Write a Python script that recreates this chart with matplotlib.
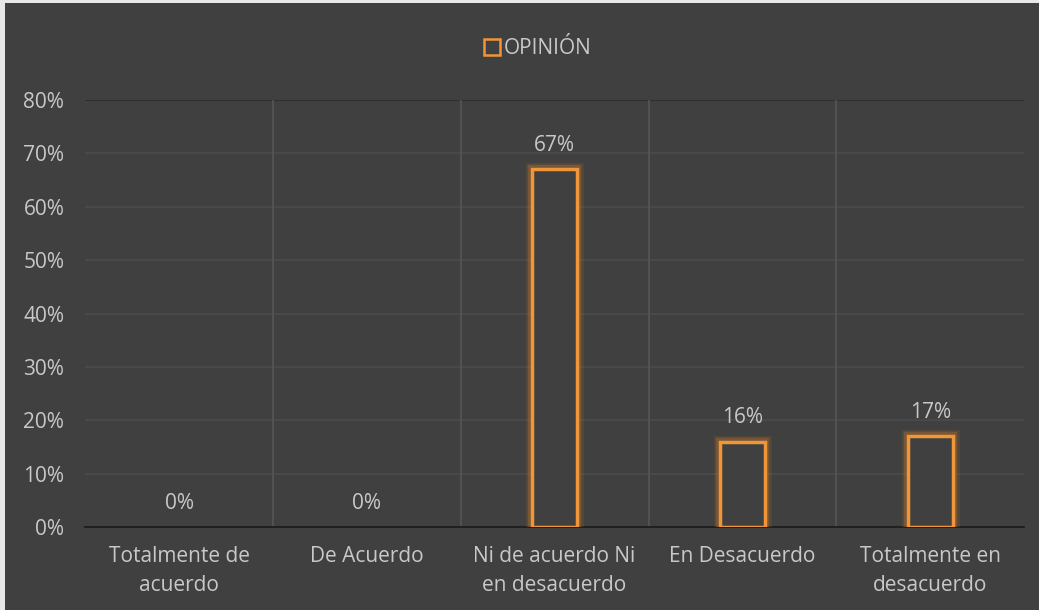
import matplotlib.pyplot as plt
from matplotlib.patches import Rectangle
import numpy as np

categories = ["Totalmente de\nacuerdo", "De Acuerdo", "Ni de acuerdo Ni\nen desacuerdo",
              "En Desacuerdo", "Totalmente en\ndesacuerdo"]
values = [0, 0, 67, 16, 17]
labels = ["0%", "0%", "67%", "16%", "17%"]
series_name = "OPINIÓN"

bg = '#404040'
txt = '#c8c8c8'
orange = '#f0963a'
fs = 15

plt.rcParams['font.family'] = ['Open Sans', 'DejaVu Sans']
plt.rcParams['font.size'] = fs

fig = plt.figure(figsize=(10.39, 6.10), dpi=100, facecolor='#e8e8e8')
fig.patches.append(Rectangle((5 / 1039, 0), 1 - 5 / 1039, 1 - 3 / 610,
                             transform=fig.transFigure, facecolor=bg,
                             edgecolor='none', zorder=-10))
ax = fig.add_axes([0.082, 0.136, 0.9036, 0.700])
ax.set_facecolor(bg)

x = np.arange(len(categories))
lws = [0 if v == 0 else 1 for v in values]
# glow behind the bars
for lw, a in [(9, 0.15), (6, 0.3)]:
    ax.bar(x, values, width=0.24, facecolor='none', edgecolor='#c97a2a',
           linewidth=[lw * k for k in lws], alpha=a, zorder=3)
ax.bar(x, values, width=0.24, facecolor=bg, edgecolor=orange,
       linewidth=[2.5 * k for k in lws], zorder=4, label=series_name)

for xi, v, lab in zip(x, values, labels):
    ax.text(xi, v + 4.5, lab, ha='center', va='center', color=txt, fontsize=fs)

ax.set_ylim(0, 80)
ax.set_xlim(-0.5, len(categories) - 0.5)
ax.set_yticks(range(0, 81, 10))
ax.set_yticklabels([f"{t}%" for t in range(0, 81, 10)])
ax.set_xticks(x)
ax.set_xticklabels(categories, linespacing=1.45)
ax.tick_params(colors=txt, length=0, labelsize=fs)
ax.tick_params(axis='y', pad=15)
ax.tick_params(axis='x', pad=14)
for t in ax.get_xticklabels() + ax.get_yticklabels():
    t.set_color(txt)

for s in ['top', 'right', 'left']:
    ax.spines[s].set_visible(False)
ax.spines['bottom'].set_color('#1a1a1a')
ax.spines['bottom'].set_linewidth(1.2)

for yv in range(10, 81, 10):
    ax.axhline(yv, color='#4b4b4b', linewidth=1.2, zorder=1)
ax.axhline(80, color='#2a2a2a', linewidth=1.2, zorder=1)
for xv in np.arange(0.5, len(categories) - 0.5, 1):
    ax.axvline(xv, color='#555555', linewidth=1.2, zorder=1)

leg = fig.legend(handles=[Rectangle((0, 0), 1, 1, facecolor='none', edgecolor=orange, linewidth=1.8)],
                 labels=[series_name], loc='center', bbox_to_anchor=(0.518, 0.92),
                 frameon=False, handlelength=0.75, handleheight=0.75, handletextpad=0.2,
                 fontsize=fs)
for t in leg.get_texts():
    t.set_color(txt)

fig.savefig('out.png', dpi=100, facecolor=fig.get_facecolor())
